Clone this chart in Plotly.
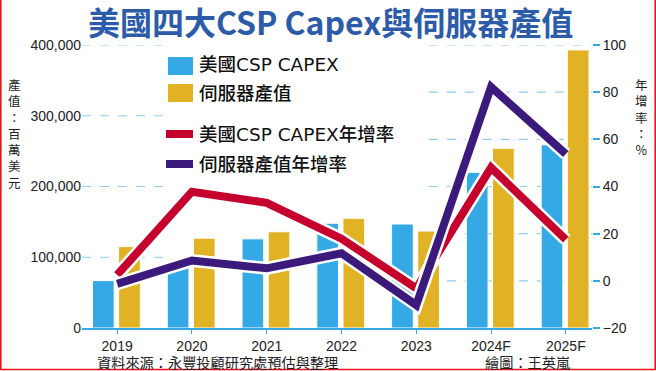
import plotly.graph_objects as go

# ---- data ----
years = ["2019", "2020", "2021", "2022", "2023", "2024F", "2025F"]
capex = [67000, 90000, 126000, 148000, 147000, 220000, 259000]        # 美國CSP CAPEX (百萬美元)
server = [115000, 127000, 136000, 155000, 137000, 254000, 393000]     # 伺服器產值 (百萬美元)
capex_yoy = [2.5, 37.8, 33.1, 17.9, -3.2, 48.0, 17.5]                 # %
server_yoy = [-1.3, 8.6, 5.3, 11.7, -10.3, 82.2, 53.8]                # %
left_ticks = [0, 100000, 200000, 300000, 400000]
left_ticktext = ["0", "100,000", "200,000", "300,000", "400,000"]
right_ticks = [-20, 0, 20, 40, 60, 80, 100]

BLUE = "#35a8e6"
GOLD = "#e1b223"
RED = "#c6002c"
PURPLE = "#3b1a7c"
CJK = "Noto Sans CJK TC, sans-serif"
LEG = "DejaVu Sans, Noto Sans CJK TC, sans-serif"
NUM = "Liberation Sans, Arial, sans-serif"

xs = list(range(len(years)))

fig = go.Figure()
fig.add_trace(go.Bar(x=xs, y=capex, width=0.29, offset=-0.33, marker=dict(color=BLUE, line=dict(color="white", width=1)),
                     name="美國CSP CAPEX", yaxis="y"))
fig.add_trace(go.Bar(x=xs, y=server, width=0.29, offset=0.02, marker=dict(color=GOLD, line=dict(color="white", width=1)),
                     name="伺服器產值", yaxis="y"))
for vals, col, nm in [(capex_yoy, RED, "美國CSP CAPEX年增率"), (server_yoy, PURPLE, "伺服器產值年增率")]:
    fig.add_trace(go.Scatter(x=xs, y=vals, mode="lines", line=dict(color="white", width=13),
                             yaxis="y2", hoverinfo="skip", showlegend=False))
    fig.add_trace(go.Scatter(x=xs, y=vals, mode="lines", line=dict(color=col, width=8),
                             yaxis="y2", name=nm))

# plot area in pixels: x 82..592, y 45..328
PL, PR, PT, PB = 82, 592, 45, 328
W, H = PR - PL, PB - PT
def px(x):
    return (x - PL) / W
def py(y):
    return (PB - y) / H

shapes = []
# partial dashed gridlines (left axis)
for v in left_ticks[1:]:
    shapes.append(dict(type="line", xref="paper", yref="y", x0=0, x1=0.16, y0=v, y1=v,
                       line=dict(color="#8fcdf0", width=1.2, dash="dash"), layer="below"))
# partial dashed gridlines (right axis)
for v in right_ticks[1:]:
    shapes.append(dict(type="line", xref="paper", yref="y2", x0=0.68, x1=1, y0=v, y1=v,
                       line=dict(color="#8fcdf0", width=1.2, dash="dash"), layer="below"))
# custom legend
shapes.append(dict(type="rect", xref="paper", yref="paper", x0=px(168), x1=px(193), y0=py(75), y1=py(57),
                   fillcolor=BLUE, line=dict(width=0)))
shapes.append(dict(type="rect", xref="paper", yref="paper", x0=px(168), x1=px(193), y0=py(102), y1=py(84),
                   fillcolor=GOLD, line=dict(width=0)))
shapes.append(dict(type="line", xref="paper", yref="paper", x0=px(166), x1=px(193), y0=py(134), y1=py(134),
                   line=dict(color=RED, width=8)))
shapes.append(dict(type="line", xref="paper", yref="paper", x0=px(166), x1=px(193), y0=py(164), y1=py(164),
                   line=dict(color=PURPLE, width=8)))
# red frame (left, bottom, right)
shapes.append(dict(type="path", xref="paper", yref="paper",
                   path=f"M {px(0.8)},{py(0)} L {px(0.8)},{py(369.5)} L {px(655.2)},{py(369.5)} L {px(655.2)},{py(0)}",
                   line=dict(color="#e8141c", width=1.6)))

annotations = []
legend_items = [("美國CSP CAPEX", 65), ("伺服器產值", 93), ("美國CSP CAPEX年增率", 134), ("伺服器產值年增率", 164)]
for txt, yy in legend_items:
    annotations.append(dict(text=txt, xref="paper", yref="paper", x=px(197), y=py(yy), xanchor="left", yanchor="middle",
                            showarrow=False, font=dict(family=LEG, size=18.5, color="#111", weight=500)))
# vertical axis titles
annotations.append(dict(text="<br>".join("產值：百萬美元"), xref="paper", yref="paper", x=px(14), y=py(73),
                        xanchor="center", yanchor="top", showarrow=False,
                        font=dict(family=CJK, size=12.5, color="#222")))
annotations.append(dict(text="<br>".join("年增率：%"), xref="paper", yref="paper", x=px(641), y=py(73),
                        xanchor="center", yanchor="top", showarrow=False,
                        font=dict(family=CJK, size=12.5, color="#222")))
# footer
annotations.append(dict(text="資料來源：永豐投顧研究處預估與整理", xref="paper", yref="paper", x=px(95), y=py(361.5),
                        xanchor="left", yanchor="middle", showarrow=False, font=dict(family=CJK, size=14.2, color="#222")))
annotations.append(dict(text="繪圖：王英嵐", xref="paper", yref="paper", x=px(483), y=py(361.5),
                        xanchor="left", yanchor="middle", showarrow=False, font=dict(family=CJK, size=14.2, color="#222")))
# title
annotations.append(dict(text="美國四大CSP Capex與伺服器產值", xref="paper", yref="paper", x=px(330), y=py(21),
                        xanchor="center", yanchor="middle", showarrow=False,
                        font=dict(family=CJK, size=32, color="#2b5ba9", weight=700)))

fig.update_layout(
    width=656, height=371,
    margin=dict(l=PL, r=656 - PR, t=PT, b=371 - PB),
    paper_bgcolor="white", plot_bgcolor="white",
    barmode="overlay", showlegend=False,
    xaxis=dict(range=[-0.47, 6.35], tickmode="array", tickvals=xs, ticktext=years,
               showline=True, linecolor=BLUE, linewidth=1.5, ticks="outside", ticklen=4, tickcolor=BLUE,
               showgrid=False, zeroline=False, tickfont=dict(family=NUM, size=14, color="#222")),
    yaxis=dict(range=[0, 400000], tickmode="array", tickvals=left_ticks, ticktext=left_ticktext,
               showgrid=False, zeroline=False, showline=False, ticks="",
               tickfont=dict(family=NUM, size=14, color="#222")),
    yaxis2=dict(range=[-20, 100], overlaying="y", side="right", tickmode="array", tickvals=right_ticks,
                showgrid=False, zeroline=False, showline=False, ticks="outside", ticklen=7, tickcolor=BLUE,
                tickwidth=1.5, tickfont=dict(family=NUM, size=14, color="#222")),
    shapes=shapes, annotations=annotations,
)

fig.write_html("out.html", config={"displayModeBar": False},
               post_script="document.body.style.margin='0';document.body.style.overflow='hidden';")
